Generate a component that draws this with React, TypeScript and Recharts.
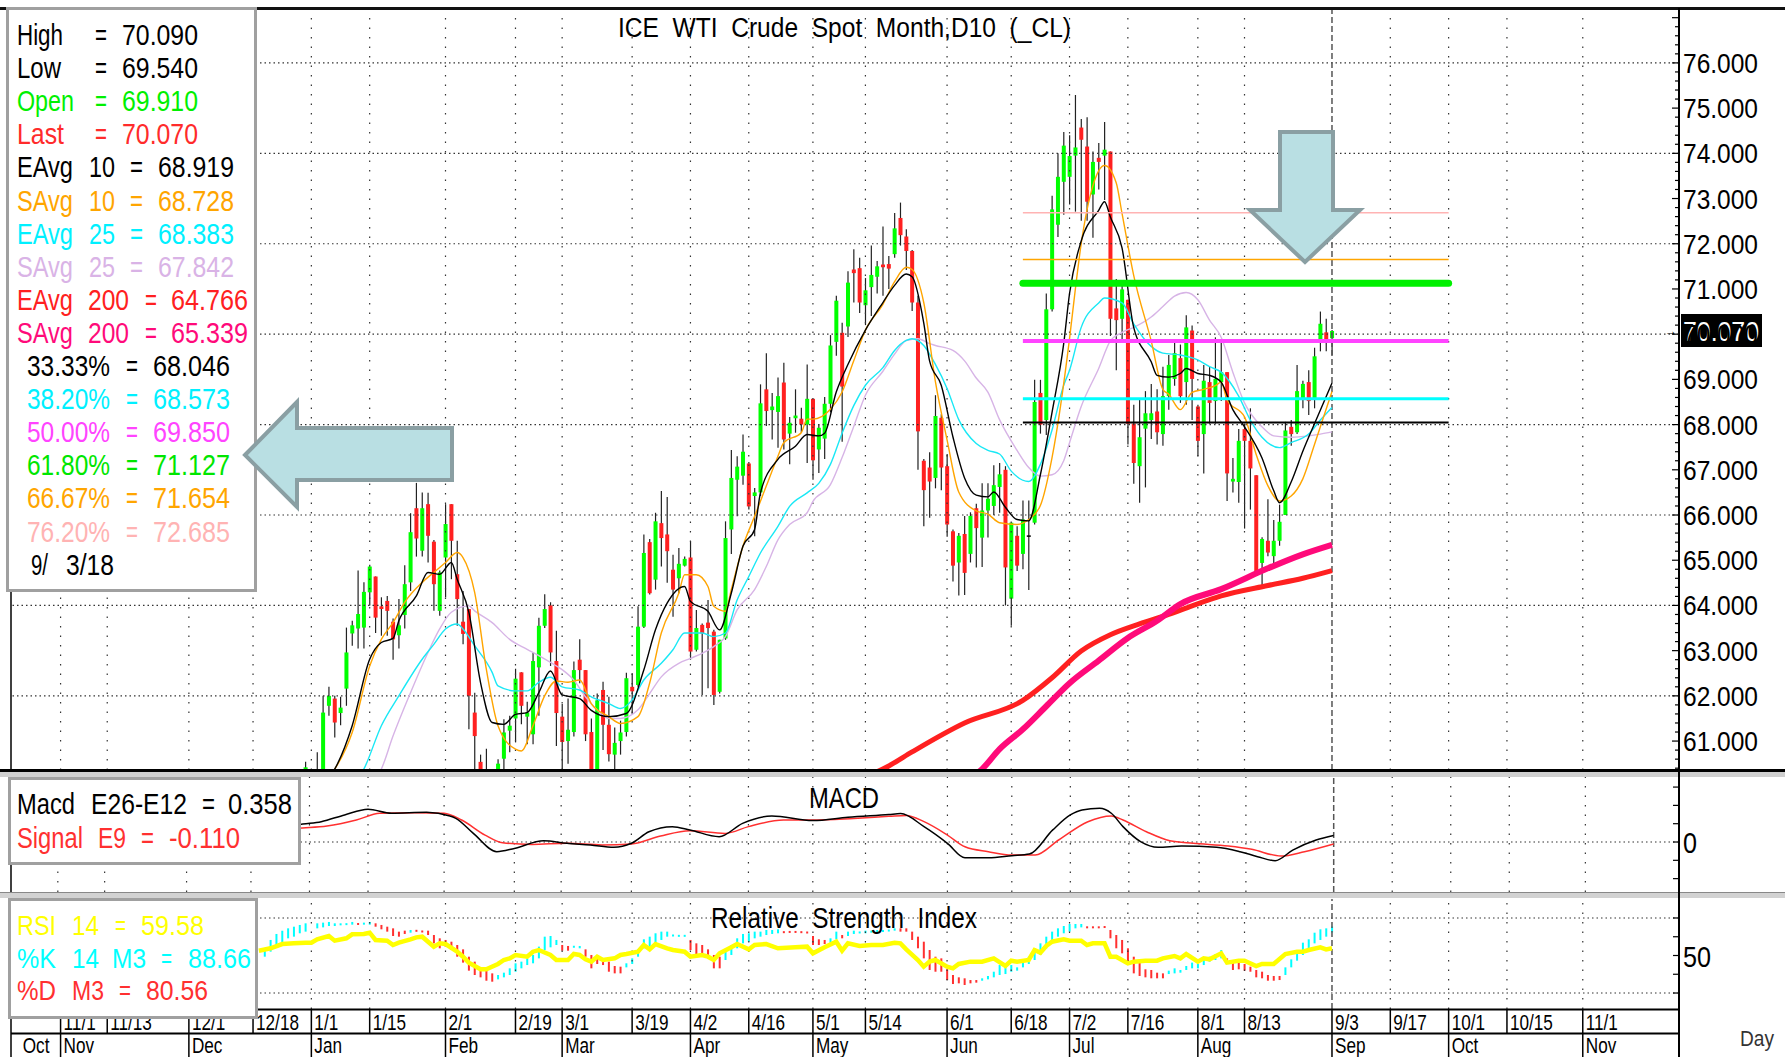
import React from "react";
import { ComposedChart, Bar, Line, XAxis, YAxis, ReferenceLine } from "recharts";

const FONT = "'Liberation Sans', Arial, sans-serif";
const W = 1785;
const SLOTS = 286; // weekday slots from 10/20/17 to late Nov 18

// [slot, open, high, low, close]
const CANDLES: number[][] = [
  [50, 60.2, 60.54, 59.9, 60.42], [52, 60.2, 60.75, 59.9, 60.37], [53, 60.3, 62.0, 60.2, 61.63],
  [54, 61.78, 62.2, 61.56, 62.0], [55, 61.94, 62.0, 61.08, 61.41], [56, 61.62, 61.98, 61.35, 61.74],
  [57, 62.16, 63.51, 61.78, 62.96], [58, 63.38, 63.66, 63.11, 63.56], [59, 63.49, 64.77, 63.05, 63.81],
  [60, 63.51, 64.51, 63.05, 64.3], [61, 64.29, 64.9, 64.0, 64.86], [62, 64.64, 64.64, 63.39, 63.73],
  [63, 63.98, 64.18, 63.33, 63.92], [64, 64.1, 64.21, 63.33, 63.88], [65, 63.64, 63.71, 62.8, 63.25],
  [66, 63.34, 64.14, 63.05, 63.56], [67, 63.79, 64.89, 63.49, 64.47], [68, 64.51, 66.04, 64.32, 65.62],
  [69, 66.15, 66.71, 65.08, 65.48], [70, 65.21, 66.5, 65.08, 66.15], [71, 66.24, 66.49, 64.95, 65.54],
  [72, 65.41, 65.45, 63.88, 64.47], [73, 63.88, 64.77, 63.77, 64.73], [74, 65.06, 66.24, 64.18, 65.8],
  [75, 66.24, 66.24, 64.58, 65.43], [76, 64.69, 65.43, 63.55, 64.14], [77, 63.64, 64.32, 63.14, 63.37],
  [78, 63.92, 63.92, 61.26, 62.0], [79, 61.63, 62.07, 60.38, 61.11], [80, 60.54, 60.7, 59.0, 59.2],
  [81, 59.5, 60.83, 58.9, 59.3], [82, 59.3, 59.8, 58.6, 59.2], [83, 59.2, 60.6, 59.0, 60.5],
  [84, 60.61, 61.48, 60.38, 61.19], [85, 61.23, 61.56, 60.75, 61.34], [86, 61.5, 62.6, 60.97, 62.38],
  [87, 62.52, 62.52, 61.37, 61.78], [88, 61.54, 61.87, 60.93, 61.63], [89, 61.15, 62.96, 60.93, 62.77],
  [90, 62.63, 63.73, 61.56, 63.55], [91, 63.55, 64.25, 63.5, 63.92], [92, 64.0, 64.07, 62.66, 62.96],
  [93, 62.77, 63.44, 60.89, 61.62], [94, 61.54, 61.82, 60.38, 60.98], [95, 61.0, 61.94, 60.5, 61.25],
  [96, 61.2, 62.76, 61.1, 62.57], [97, 62.8, 63.25, 62.28, 62.57], [98, 62.57, 62.57, 61.0, 61.15],
  [99, 61.2, 61.5, 59.95, 60.12], [100, 60.3, 62.05, 60.0, 61.9], [101, 62.13, 62.31, 60.8, 61.36],
  [102, 61.36, 61.98, 60.55, 60.71], [103, 60.7, 61.3, 60.3, 60.96], [104, 61.0, 61.45, 60.7, 61.19],
  [105, 61.2, 62.51, 61.1, 62.39], [106, 62.2, 62.5, 61.6, 62.1], [107, 62.24, 63.98, 62.2, 63.53],
  [108, 63.53, 65.57, 63.5, 65.16], [109, 65.4, 65.47, 64.24, 64.27], [110, 64.57, 66.05, 64.35, 65.86],
  [111, 65.82, 66.53, 64.86, 65.49], [112, 65.57, 66.4, 64.5, 65.2], [113, 64.79, 65.12, 63.75, 64.35],
  [114, 64.6, 65.27, 64.27, 64.92], [115, 64.88, 65.08, 64.86, 65.03], [116, 65.06, 65.42, 62.8, 62.98],
  [117, 63.02, 63.9, 62.98, 63.5], [118, 63.57, 63.6, 62.02, 63.38], [119, 63.62, 64.12, 62.17, 63.5],
  [120, 63.42, 63.46, 61.8, 62.02], [121, 62.09, 63.24, 62.05, 63.24], [122, 63.27, 65.86, 63.24, 65.49],
  [123, 65.68, 67.44, 65.14, 66.82], [124, 66.78, 67.3, 65.97, 67.07], [125, 66.87, 67.78, 66.67, 67.4],
  [126, 67.14, 67.17, 66.12, 66.19], [127, 66.42, 66.6, 65.53, 66.5], [128, 66.5, 68.89, 66.42, 68.47],
  [129, 68.78, 69.58, 67.97, 68.3], [130, 68.32, 68.7, 67.67, 68.4], [131, 68.28, 69.04, 67.49, 68.63],
  [132, 68.93, 69.37, 67.45, 67.67], [133, 67.8, 68.17, 67.12, 68.04], [134, 68.14, 68.78, 67.82, 68.2],
  [135, 68.13, 68.37, 67.82, 68.0], [136, 68.0, 69.33, 67.15, 68.57], [137, 68.57, 68.57, 66.78, 67.21],
  [138, 67.45, 68.0, 66.93, 67.93], [139, 67.69, 68.61, 67.24, 68.46], [140, 68.46, 69.98, 68.27, 69.75],
  [141, 69.83, 70.85, 69.52, 70.74], [142, 70.03, 70.25, 67.62, 68.84], [143, 70.17, 71.39, 69.94, 71.14],
  [144, 71.43, 71.88, 70.7, 71.35], [145, 71.46, 71.69, 70.47, 70.7], [146, 70.64, 71.24, 70.2, 70.97],
  [147, 71.04, 71.96, 70.4, 71.31], [148, 71.27, 71.62, 70.9, 71.5], [149, 71.54, 72.38, 70.85, 71.48],
  [150, 71.55, 71.73, 71.0, 71.45], [151, 71.77, 72.68, 71.69, 72.34], [152, 72.57, 72.91, 71.96, 72.19],
  [153, 72.16, 72.32, 71.42, 71.84], [154, 71.84, 71.86, 70.51, 70.7], [155, 70.7, 70.85, 67.0, 67.85],
  [156, 67.2, 67.24, 65.75, 66.55], [157, 67.05, 67.39, 65.94, 66.74], [158, 66.82, 68.65, 66.59, 68.19],
  [159, 68.15, 68.23, 66.55, 67.05], [160, 67.08, 67.35, 65.52, 65.79], [161, 65.64, 65.68, 64.53, 64.88],
  [162, 64.95, 65.6, 64.22, 65.54], [163, 65.58, 65.98, 64.23, 64.72], [164, 65.14, 66.06, 64.95, 65.98],
  [165, 66.15, 66.25, 64.84, 65.71], [166, 65.5, 66.7, 64.85, 66.1], [167, 66.1, 66.7, 65.5, 66.36],
  [168, 66.2, 67.1, 66.0, 66.66], [169, 66.62, 67.15, 66.05, 66.9], [170, 67.0, 67.08, 64.0, 64.84],
  [171, 64.15, 65.83, 63.55, 65.83], [172, 65.54, 65.75, 64.76, 64.88], [173, 65.14, 66.32, 64.8, 65.9],
  [174, 65.55, 66.32, 64.34, 65.52], [175, 65.83, 68.99, 65.79, 68.5], [176, 68.7, 68.99, 67.8, 68.0],
  [177, 68.1, 70.9, 67.77, 70.55], [178, 70.55, 73.06, 70.5, 72.76], [179, 72.42, 74.0, 72.15, 73.48],
  [180, 73.37, 74.47, 72.64, 74.17], [181, 73.48, 74.4, 72.87, 73.94], [182, 73.95, 75.29, 72.71, 74.13],
  [183, 74.57, 74.76, 72.51, 74.3], [184, 74.15, 74.8, 72.51, 72.93], [185, 73.09, 74.04, 72.13, 73.81],
  [186, 73.9, 74.23, 73.2, 73.81], [187, 73.95, 74.69, 72.97, 74.08], [188, 74.04, 74.04, 69.96, 70.34],
  [189, 70.57, 71.22, 69.2, 70.31], [190, 70.34, 71.07, 69.85, 70.99], [191, 70.76, 70.76, 67.56, 68.02],
  [192, 68.02, 68.44, 66.69, 67.15], [193, 67.08, 68.55, 66.27, 67.72], [194, 67.91, 68.74, 66.61, 68.25],
  [195, 68.1, 68.9, 67.68, 68.25], [196, 68.29, 68.78, 67.56, 67.83], [197, 67.79, 69.28, 67.53, 68.63],
  [198, 68.63, 69.54, 68.33, 69.32], [199, 69.01, 69.89, 68.86, 69.58], [200, 69.47, 69.77, 68.48, 68.63],
  [201, 68.94, 70.42, 68.44, 70.15], [202, 70.08, 70.19, 68.1, 69.01], [203, 68.4, 68.44, 67.3, 67.64],
  [204, 67.79, 69.32, 66.92, 68.97], [205, 68.94, 69.28, 68.02, 68.48], [206, 68.52, 69.93, 68.02, 69.01],
  [207, 68.94, 69.81, 68.52, 69.16], [208, 69.16, 69.16, 66.31, 66.92], [209, 66.74, 67.26, 66.5, 66.8],
  [210, 66.73, 67.9, 66.27, 67.64], [211, 67.9, 68.02, 65.7, 67.64], [212, 67.64, 68.36, 66.12, 67.03],
  [213, 66.88, 66.88, 64.67, 64.75], [214, 64.94, 65.51, 64.4, 65.47], [215, 65.43, 66.35, 65.09, 65.17],
  [216, 65.09, 65.89, 64.86, 65.43], [217, 65.43, 66.23, 65.32, 65.85], [218, 66.0, 68.06, 66.0, 67.87],
  [219, 67.95, 68.1, 67.53, 67.79], [220, 67.83, 69.32, 67.79, 68.74], [221, 68.55, 68.97, 68.36, 68.9],
  [222, 68.94, 69.2, 68.21, 68.52], [223, 68.55, 69.7, 68.36, 69.51], [224, 69.85, 70.5, 69.62, 70.23],
  [225, 70.04, 70.34, 69.62, 69.89], [226, 69.91, 70.09, 69.54, 70.07],
];

// moving averages: [slot, value]
const EMA10 = [[52,60.0],[55,60.38],[58,61.34],[61,62.81],[63,63.18],[65,63.27],[66,63.66],[69,64.21],[71,64.73],[73,64.69],[75,64.95],[76,64.58],[78,63.85],[80,62.3],[82,61.41],[84,61.37],[86,61.59],[88,61.63],[90,62.07],[92,62.55],[94,62.02],[97,61.94],[99,61.68],[102,61.54],[105,61.61],[108,62.57],[110,63.46],[112,64.05],[115,64.42],[116,64.09],[119,63.87],[121,63.46],[123,64.27],[125,65.31],[127,65.68],[128,66.49],[131,67.23],[134,67.52],[136,67.78],[138,67.75],[139,67.81],[141,68.72],[143,69.33],[146,70.09],[149,70.7],[151,71.08],[153,71.33],[154,71.27],[156,70.25],[157,69.41],[159,68.87],[161,67.73],[163,66.82],[165,66.44],[167,66.4],[168,66.51],[170,66.17],[172,65.9],[174,65.87],[176,66.89],[178,68.27],[180,69.79],[181,70.9],[183,72.06],[186,72.74],[187,72.93],[188,72.59],[190,71.91],[192,70.15],[195,69.39],[196,69.09],[198,69.05],[200,69.13],[201,69.24],[203,69.13],[205,69.09],[207,68.94],[209,68.33],[211,67.95],[214,67.26],[216,66.54],[217,66.27],[219,66.73],[221,67.41],[223,68.02],[226,68.92]];
const SMA10 = [[52,60.0],[55,60.38],[58,61.19],[61,62.66],[63,63.25],[65,63.62],[67,64.07],[70,64.51],[72,64.73],[74,64.95],[76,65.17],[77,65.06],[79,64.29],[81,62.59],[83,61.34],[86,60.82],[87,60.78],[89,61.34],[91,62.0],[93,62.33],[95,62.3],[97,62.35],[99,61.83],[102,61.54],[104,61.39],[107,61.54],[109,62.28],[111,63.39],[114,64.27],[115,64.68],[117,64.68],[119,64.42],[120,63.98],[122,63.87],[123,64.35],[125,65.31],[127,65.97],[129,66.64],[131,67.3],[132,67.6],[135,67.82],[136,68.12],[137,68.12],[140,68.34],[142,68.72],[144,69.41],[146,70.09],[149,70.66],[151,71.16],[153,71.48],[154,71.43],[156,70.7],[158,68.95],[160,67.66],[162,66.51],[165,66.09],[167,66.02],[169,65.83],[172,65.79],[174,65.9],[176,66.21],[178,67.27],[181,69.9],[182,71.0],[183,72.0],[185,73.28],[187,73.73],[189,73.35],[190,72.67],[192,71.3],[195,69.85],[197,68.78],[198,68.67],[200,68.33],[202,68.71],[204,68.78],[206,68.86],[207,68.94],[208,68.55],[211,68.17],[213,67.34],[215,66.65],[217,66.31],[219,66.42],[221,66.8],[223,67.56],[226,68.73]];
const EMA25 = [[58,60.0],[60,60.38],[63,61.34],[66,62.0],[70,62.81],[72,63.14],[74,63.48],[76,63.59],[77,63.48],[79,63.11],[82,62.52],[83,62.22],[86,62.11],[88,62.11],[90,62.3],[92,62.41],[94,62.2],[97,62.13],[99,61.98],[102,61.83],[104,61.72],[106,61.91],[108,62.35],[111,62.72],[113,63.02],[115,63.39],[118,63.39],[120,63.31],[122,63.39],[124,64.12],[126,64.64],[128,65.16],[131,65.75],[133,66.19],[136,66.49],[138,66.7],[140,67.12],[142,67.81],[144,68.42],[146,68.87],[149,69.26],[151,69.64],[153,69.86],[154,69.9],[156,69.75],[158,69.33],[160,68.8],[162,68.11],[165,67.58],[167,67.43],[169,67.35],[171,66.97],[174,66.74],[176,67.12],[178,67.88],[180,68.87],[181,69.2],[183,70.15],[186,70.69],[187,70.8],[190,70.69],[192,70.23],[195,69.73],[197,69.58],[200,69.54],[203,69.43],[205,69.28],[207,69.16],[210,68.63],[212,68.1],[214,67.72],[217,67.49],[219,67.6],[222,67.79],[224,68.1],[226,68.38]];
const SMA25 = [[61,60.0],[63,60.38],[65,61.11],[68,62.07],[71,62.96],[73,63.48],[75,63.85],[78,63.99],[79,63.88],[82,63.62],[85,63.25],[88,63.03],[90,62.89],[92,62.74],[94,62.58],[96,62.35],[98,61.98],[100,61.69],[102,61.5],[104,61.5],[107,61.69],[109,62.05],[111,62.42],[114,62.72],[116,62.83],[118,62.94],[120,63.09],[122,63.31],[124,63.9],[127,64.35],[129,64.86],[131,65.45],[133,65.79],[136,66.05],[137,66.3],[140,66.67],[142,67.27],[144,67.96],[146,68.65],[149,69.18],[151,69.56],[153,69.86],[155,69.9],[157,69.79],[158,69.75],[161,69.64],[163,69.41],[165,69.03],[167,68.72],[169,68.11],[172,67.43],[174,67.05],[176,66.86],[178,66.89],[180,67.2],[181,67.6],[183,68.4],[186,69.24],[188,69.85],[190,70.04],[192,70.15],[195,70.38],[197,70.61],[199,70.84],[201,70.92],[203,70.76],[205,70.31],[207,69.93],[209,69.16],[211,68.48],[214,67.95],[216,67.75],[219,67.72],[222,67.75],[224,67.79],[226,67.84]];
const EMA200 = [[145,60.15],[150,60.45],[154,60.76],[163,61.4],[173,61.9],[178,62.4],[183,62.99],[188,63.35],[193,63.59],[198,63.8],[202,63.99],[207,64.21],[215,64.44],[221,64.6],[226,64.77]];
const SMA200 = [[163,60.1],[166,60.38],[169,60.82],[173,61.26],[177,61.77],[181,62.28],[186,62.78],[191,63.28],[196,63.66],[200,64.03],[207,64.36],[215,64.82],[221,65.13],[226,65.34]];

// retracement levels, drawn from 6/20 to 10/1
const FIB_LEVELS = [68.046, 68.573, 69.85, 71.127, 71.654, 72.685];
const FIB_FROM = 173;
const FIB_TO = 246;
const LAST = 70.07;

const MACD = [[48,0.85],[49,0.93],[53,1.11],[57,1.48],[61,1.79],[65,1.57],[71,1.62],[75,1.42],[76,1.29],[79,0.47],[83,-0.53],[86,-0.35],[91,0.07],[95,-0.07],[99,-0.16],[103,-0.29],[106,-0.07],[109,0.56],[113,0.84],[116,0.66],[121,0.29],[125,1.02],[130,1.42],[137,1.17],[143,1.35],[150,1.5],[152,1.55],[156,0.84],[160,-0.07],[163,-0.86],[167,-0.86],[171,-0.75],[174,-0.66],[178,0.66],[181,1.48],[183,1.75],[186,1.84],[188,1.57],[190,0.84],[193,0.02],[196,-0.29],[200,-0.22],[206,-0.29],[210,-0.53],[213,-0.8],[216,-1.02],[219,-0.44],[223,0.11],[226,0.358]];
const SIGNAL = [[48,0.72],[49,0.75],[54,0.87],[59,1.2],[63,1.57],[69,1.6],[74,1.57],[77,1.2],[81,0.38],[84,-0.04],[89,-0.13],[95,-0.07],[101,-0.16],[106,-0.11],[111,0.33],[116,0.62],[122,0.47],[126,0.84],[132,1.2],[137,1.2],[144,1.29],[150,1.4],[153,1.45],[156,1.11],[160,0.38],[163,-0.26],[167,-0.53],[171,-0.71],[175,-0.71],[179,0.11],[184,1.11],[188,1.42],[190,1.2],[194,0.56],[198,0.07],[202,-0.07],[208,-0.22],[212,-0.4],[217,-0.77],[221,-0.53],[226,-0.11]];

const RSI = [[42,56.4],[44,59.6],[46,65.3],[48,66.2],[50,67.1],[51,67.1],[52,71.6],[54,76.0],[55,69.8],[57,72.9],[58,78.2],[60,78.7],[61,80.4],[62,70.7],[64,69.8],[65,64.0],[66,67.1],[68,71.6],[69,74.2],[70,75.1],[72,61.8],[73,66.2],[74,65.3],[76,55.1],[77,48.4],[78,40.5],[80,31.6],[81,31.6],[83,38.7],[84,44.0],[85,46.2],[86,50.7],[88,48.4],[89,55.1],[90,57.3],[92,50.7],[93,44.0],[95,44.0],[96,52.0],[97,50.7],[98,45.0],[99,41.8],[100,48.4],[101,44.0],[103,46.2],[104,50.7],[105,52.0],[107,55.1],[108,64.0],[109,58.2],[110,65.3],[112,59.6],[113,57.3],[115,55.1],[116,48.4],[118,50.7],[119,48.4],[120,44.0],[121,52.9],[123,60.9],[124,65.3],[126,58.2],[127,64.0],[129,65.3],[131,59.6],[134,60.9],[136,61.8],[137,52.9],[139,60.9],[141,68.4],[142,56.4],[143,66.2],[145,62.7],[147,64.0],[149,64.0],[151,67.1],[152,66.2],[153,58.2],[155,44.0],[156,35.1],[157,41.8],[158,44.0],[160,35.1],[161,32.9],[162,38.7],[164,41.8],[166,41.8],[168,46.2],[170,36.0],[171,43.1],[172,41.8],[174,44.0],[175,57.3],[176,53.8],[177,62.7],[178,68.4],[180,71.6],[181,69.8],[183,69.8],[184,64.0],[185,66.2],[187,66.2],[188,48.4],[189,48.4],[191,39.6],[192,41.8],[194,43.1],[196,43.1],[197,46.2],[199,49.3],[200,46.2],[201,52.0],[203,41.8],[204,46.2],[205,44.9],[207,52.9],[208,40.5],[210,43.1],[211,43.1],[213,36.0],[214,38.7],[216,38.7],[218,52.0],[220,55.1],[221,55.1],[222,57.3],[224,60.9],[225,58.2],[226,59.58]];
// stochastic: [slot, %K, %D]
const STOCH = [[43,58.2,48.4],[44,70.7,55.1],[45,78.7,61.8],[46,83.0,67.0],[47,86.2,72.9],[48,88.4,75.1],[49,90.7,79.6],[50,92.9,81.8],[52,92.9,86.2],[53,93.8,87.5],[54,94.7,89.3],[55,92.9,89.3],[56,92.9,90.2],[57,92.9,90.7],[58,94.7,91.1],[59,91.1,92.9],[60,93.8,91.1],[61,94.7,91.1],[62,88.4,92.9],[63,84.9,90.7],[64,81.8,88.4],[65,76.0,86.2],[66,75.1,81.8],[67,78.7,83.1],[68,84.0,80.4],[69,82.7,83.1],[70,81.0,83.0],[71,77.3,83.1],[72,66.2,77.3],[73,59.6,72.9],[74,61.8,70.7],[75,57.3,68.4],[76,48.4,64.0],[77,40.5,58.2],[78,29.8,48.4],[79,24.0,41.8],[80,20.9,34.2],[81,16.4,30.7],[82,15.1,26.2],[83,24.0,18.2],[84,27.1,20.9],[85,32.9,24.0],[86,39.6,28.4],[87,41.8,32.9],[88,46.2,37.3],[89,50.7,39.6],[90,61.8,46.2],[91,75.1,57.3],[92,76.0,60.9],[93,70.7,64.0],[94,56.4,64.0],[95,56.4,62.7],[96,61.8,61.5],[97,62.7,59.6],[98,48.4,58.2],[99,32.9,50.7],[100,38.7,50.7],[101,37.3,46.2],[102,28.4,41.8],[103,26.2,36.0],[104,26.2,35.1],[105,39.6,34.2],[106,46.2,38.7],[107,58.2,48.4],[108,71.6,59.6],[109,75.1,61.8],[110,79.6,66.2],[111,81.8,70.7],[112,81.8,75.1],[113,77.3,76.0],[114,76.4,76.0],[115,76.4,76.0],[116,57.3,70.7],[117,52.0,66.2],[118,52.9,64.0],[119,50.7,58.2],[120,32.9,50.7],[121,32.9,48.4],[122,55.1,44.0],[123,64.0,50.7],[124,72.9,59.6],[125,78.7,66.2],[126,79.6,68.4],[127,81.8,72.9],[128,81.8,75.1],[129,84.0,77.3],[130,84.0,78.7],[131,84.9,79.6],[132,80.4,81.8],[133,81.0,81.8],[134,81.0,81.8],[135,80.4,81.8],[136,80.4,80.9],[137,64.0,76.0],[138,64.0,71.6],[139,65.3,70.7],[140,72.9,67.1],[141,81.8,71.6],[142,72.9,77.3],[143,81.8,76.0],[144,83.1,78.7],[145,81.8,79.6],[146,83.1,79.6],[147,83.1,80.4],[148,84.0,80.4],[149,84.0,81.3],[150,83.5,83.0],[151,86.2,83.1],[152,81.8,86.2],[153,81.8,86.2],[154,70.7,81.8],[155,59.6,75.1],[156,46.2,68.4],[157,30.7,57.3],[158,28.4,48.4],[159,28.4,46.2],[160,17.3,31.6],[161,12.0,24.0],[162,12.9,20.9],[163,10.7,19.6],[164,12.9,17.3],[165,13.8,17.3],[166,19.6,16.4],[167,22.7,18.2],[168,28.4,20.9],[169,37.3,24.0],[170,36.0,25.3],[171,37.3,28.4],[172,34.2,29.8],[173,41.8,34.2],[174,48.4,38.7],[175,59.6,44.0],[176,66.2,50.7],[177,75.1,59.6],[178,81.8,66.2],[179,86.2,75.1],[180,89.3,79.6],[181,92.0,81.8],[182,92.0,86.2],[183,92.0,87.5],[184,86.7,88.4],[185,86.7,88.4],[186,86.7,88.4],[187,87.5,88.4],[188,72.9,84.0],[189,59.6,77.3],[190,52.9,70.7],[191,37.3,59.6],[192,26.2,48.4],[193,22.7,40.5],[194,20.9,31.6],[195,19.6,30.7],[196,19.6,27.1],[197,19.6,26.2],[198,29.8,25.3],[199,32.9,26.2],[200,30.7,27.1],[201,36.0,30.7],[202,40.5,32.9],[203,38.7,32.9],[204,44.0,37.3],[205,48.4,41.8],[206,52.0,44.0],[207,57.3,46.2],[208,41.8,46.2],[209,30.7,41.8],[210,31.6,41.8],[211,29.8,38.7],[212,28.4,35.1],[213,20.9,30.7],[214,19.6,28.4],[215,16.4,24.0],[216,16.4,22.7],[217,17.3,22.7],[218,34.2,24.0],[219,44.9,34.2],[220,55.1,43.1],[221,67.1,50.7],[222,71.6,59.6],[223,80.4,66.2],[224,84.9,70.7],[225,86.2,75.1],[226,88.66,80.56]];

const PRICE_TICKS = [61, 62, 63, 64, 65, 66, 67, 68, 69, 70, 71, 72, 73, 74, 75, 76];
const MACD_TICKS = [-2, -1, 0, 1, 2, 3];
const RSI_TICKS = [0, 25, 50, 75, 100];
const DAY_TICKS = [8, 16, 30, 41, 51, 61, 74, 86, 94, 106, 116, 126, 137, 146, 160, 171, 181, 191, 203, 211, 226, 236, 246, 256, 269];
const DAY_LABELS = ["11/1", "11/13", "12/1", "12/18", "1/1", "1/15", "2/1", "2/19", "3/1", "3/19", "4/2", "4/16", "5/1", "5/14", "6/1", "6/18", "7/2", "7/16", "8/1", "8/13", "9/3", "9/17", "10/1", "10/15", "11/1"];
const MONTH_TICKS = [1, 8, 30, 51, 74, 94, 116, 137, 160, 181, 203, 226, 246, 269];
const MONTH_LABELS = ["Oct", "Nov", "Dec", "Jan", "Feb", "Mar", "Apr", "May", "Jun", "Jul", "Aug", "Sep", "Oct", "Nov"];
const TODAY = 226;

// ---- layout ----
const MAIN_TOP = 10;
const MAIN_H = 760;
const MAIN_DOMAIN = [60.36, 77.17];
const MACD_TOP = 777;
const MACD_H = 115;
const RSI_TOP = 899;
const RSI_H = 110;
const PPU = MAIN_H / (MAIN_DOMAIN[1] - MAIN_DOMAIN[0]);

const minorTicks: number[] = [];
for (let v = 604; v <= 770; v += 2) minorTicks.push(v / 10);

const FIB_STYLE = [
  { color: "#000000", width: 2 },
  { color: "#00ffff", width: 3 },
  { color: "#ff44ff", width: 4 },
  { color: "#00f000", width: 7 },
  { color: "#ffa500", width: 1.5 },
  { color: "#ffb3b3", width: 1.5 },
];

type Row = { [k: string]: any };
const rows: Row[] = Array.from({ length: SLOTS }, (_, i) => ({ i }));
for (const [s, o, h, l, c] of CANDLES) {
  rows[s].range = [l, h];
  rows[s].o = o;
  rows[s].c = c;
}
for (const [s, k, d] of STOCH) {
  rows[s].kd = [Math.min(k, d), Math.max(k, d)];
  rows[s].up = k >= d;
}
const put = (key: string, pts: number[][]) => {
  for (const [s, v] of pts) rows[s][key] = v;
};
put("ema10", EMA10);
put("sma10", SMA10);
put("ema25", EMA25);
put("sma25", SMA25);
put("ema200", EMA200);
put("sma200", SMA200);
put("macd", MACD);
put("signal", SIGNAL);
put("rsi", RSI);
FIB_LEVELS.forEach((v, n) => {
  rows[FIB_FROM]["fib" + n] = v;
  rows[FIB_TO]["fib" + n] = v;
});

function Candle(props: any) {
  const { x, width, payload } = props;
  let { y, height } = props;
  if (!payload || payload.o == null) return null;
  if (height < 0) {
    y += height;
    height = -height;
  }
  const [lo, hi] = payload.range;
  const k = lo >= MAIN_DOMAIN[0] && hi > lo ? height / (hi - lo) : PPU;
  const yo = y + (hi - payload.o) * k;
  const yc = y + (hi - payload.c) * k;
  const cx = x + width / 2;
  const diff = payload.c - payload.o;
  const fill = Math.abs(diff) < 0.04 ? "#000" : diff > 0 ? "#00ff00" : "#ff2020";
  return (
    <g>
      <line x1={cx} x2={cx} y1={y} y2={y + (hi - lo) * k} stroke="#222" strokeWidth={1.2} />
      <rect x={cx - 2} y={Math.min(yo, yc)} width={4} height={Math.max(Math.abs(yc - yo), 1.5)} fill={fill} />
    </g>
  );
}

function StochBar(props: any) {
  const { x, width, payload } = props;
  let { y, height } = props;
  if (!payload || !payload.kd) return null;
  if (height < 0) {
    y += height;
    height = -height;
  }
  const h = Math.max(height, 2);
  return <rect x={x + width / 2 - 1} y={y - (h - height) / 2} width={2} height={h} fill={payload.up ? "#00ffff" : "#ff3030"} />;
}

function PriceTick(props: any) {
  const { x, y, payload } = props;
  const v = payload.value;
  const major = Math.abs(v - Math.round(v)) < 0.001;
  const label = major && PRICE_TICKS.includes(Math.round(v));
  return (
    <g>
      <line x1={x - (major ? 7 : 4)} x2={x} y1={y} y2={y} stroke="#000" strokeWidth={1.2} />
      {label && (
        <text x={x + 4} y={y + 10} fontSize={28} fontFamily={FONT} fill="#000" textLength={75} lengthAdjust="spacingAndGlyphs">
          {Math.round(v).toFixed(3)}
        </text>
      )}
    </g>
  );
}

const makeSideTick = (labelled: number, w: number) => (props: any) => {
  const { x, y, payload } = props;
  return (
    <g>
      <line x1={x - 6} x2={x} y1={y} y2={y} stroke="#000" strokeWidth={1.2} />
      {payload.value === labelled && (
        <text x={x + 4} y={y + 11} fontSize={30} fontFamily={FONT} fill="#000" textLength={w} lengthAdjust="spacingAndGlyphs">
          {String(labelled)}
        </text>
      )}
    </g>
  );
};
const MacdTick = makeSideTick(0, 14);
const RsiTick = makeSideTick(50, 28);

function DayTick(props: any) {
  const { x, y, payload } = props;
  const n = DAY_TICKS.indexOf(payload.value);
  return (
    <g>
      <line x1={x} x2={x} y1={y} y2={y + 24} stroke="#000" strokeWidth={1.5} />
      <text transform={`translate(${x + 3},${y + 21}) scale(0.78,1)`} fontSize={22} fontFamily={FONT} fill="#000">
        {DAY_LABELS[n]}
      </text>
    </g>
  );
}

function MonthTick(props: any) {
  const { x, y, payload } = props;
  const n = MONTH_TICKS.indexOf(payload.value);
  return (
    <g>
      {n > 0 && <line x1={x} x2={x} y1={y} y2={y + 24} stroke="#000" strokeWidth={1.5} />}
      <text transform={`translate(${x + 3},${y + 20}) scale(0.78,1)`} fontSize={22} fontFamily={FONT} fill="#000">
        {MONTH_LABELS[n]}
      </text>
    </g>
  );
}

function LastLabel(props: any) {
  const vb = props.viewBox || {};
  const right = (vb.x || 0) + (vb.width || 0);
  const y = vb.y || 0;
  return (
    <g>
      <text x={right - 14} y={y + 4} fontSize={12} fontFamily={FONT} fill="#000">→</text>
      <rect x={right + 2} y={y - 17} width={81} height={33} fill="#000" />
      <text x={right + 4} y={y + 10} fontSize={28} fontFamily={FONT} fill="#fff" textLength={76} lengthAdjust="spacingAndGlyphs">
        {LAST.toFixed(3)}
      </text>
    </g>
  );
}

const vGrid = (xAxisId?: string) =>
  DAY_TICKS.map((t) => (
    <ReferenceLine
      key={"v" + t}
      x={t}
      xAxisId={xAxisId}
      stroke={t === TODAY ? "#555" : "#333"}
      strokeWidth={t === TODAY ? 1.5 : 1.2}
      strokeDasharray={t === TODAY ? "6 3" : "1.5 8"}
    />
  ));

const hDotted = (vals: number[]) =>
  vals.map((v) => <ReferenceLine key={"h" + v} y={v} stroke="#333" strokeWidth={1.2} strokeDasharray="1.5 3" />);

const maLine = (key: string, color: string, width: number) => (
  <Line key={key} dataKey={key} stroke={color} strokeWidth={width} dot={false} connectNulls type="monotone" isAnimationActive={false} />
);

// legend rows: [x, text, width]
const MAIN_LEGEND: { color: string; parts: [number, string, number][] }[] = [
  { color: "#000", parts: [[17, "High", 46], [95, "=", 12], [122, "70.090", 76]] },
  { color: "#000", parts: [[17, "Low", 44], [95, "=", 12], [122, "69.540", 76]] },
  { color: "#00f000", parts: [[17, "Open", 57], [95, "=", 12], [122, "69.910", 76]] },
  { color: "#ff2b2b", parts: [[17, "Last", 47], [95, "=", 12], [122, "70.070", 76]] },
  { color: "#000", parts: [[17, "EAvg", 56], [89, "10", 26], [130, "=", 13], [158, "68.919", 76]] },
  { color: "#ffa500", parts: [[17, "SAvg", 56], [89, "10", 26], [130, "=", 13], [158, "68.728", 76]] },
  { color: "#00f0ff", parts: [[17, "EAvg", 56], [89, "25", 26], [130, "=", 13], [158, "68.383", 76]] },
  { color: "#d9b3e6", parts: [[17, "SAvg", 56], [89, "25", 26], [130, "=", 13], [158, "67.842", 76]] },
  { color: "#ff2020", parts: [[17, "EAvg", 56], [88, "200", 41], [145, "=", 12], [171, "64.766", 77]] },
  { color: "#ff0a7a", parts: [[17, "SAvg", 56], [88, "200", 41], [145, "=", 12], [171, "65.339", 77]] },
  { color: "#000", parts: [[27, "33.33%", 83], [126, "=", 12], [153, "68.046", 77]] },
  { color: "#00f0ff", parts: [[27, "38.20%", 83], [126, "=", 12], [153, "68.573", 77]] },
  { color: "#ff44ff", parts: [[27, "50.00%", 83], [126, "=", 12], [153, "69.850", 77]] },
  { color: "#00e600", parts: [[27, "61.80%", 83], [126, "=", 12], [153, "71.127", 77]] },
  { color: "#ffa500", parts: [[27, "66.67%", 83], [126, "=", 12], [153, "71.654", 77]] },
  { color: "#ffb3b3", parts: [[27, "76.20%", 83], [126, "=", 12], [153, "72.685", 77]] },
  { color: "#000", parts: [[31, "9/", 17], [66, "3/18", 48]] },
];
const MACD_LEGEND: { color: string; y: number; parts: [number, string, number][] }[] = [
  { color: "#000", y: 814, parts: [[17, "Macd", 58], [91, "E26-E12", 96], [202, "=", 13], [228, "0.358", 64]] },
  { color: "#ff3030", y: 848, parts: [[17, "Signal", 66], [98, "E9", 28], [141, "=", 13], [169, "-0.110", 71]] },
];
const RSI_LEGEND: { color: string; y: number; parts: [number, string, number][] }[] = [
  { color: "#ffff00", y: 935, parts: [[17, "RSI", 39], [72, "14", 27], [115, "=", 11], [141, "59.58", 63]] },
  { color: "#00ffff", y: 968, parts: [[17, "%K", 39], [72, "14", 27], [112, "M3", 34], [161, "=", 11], [188, "88.66", 63]] },
  { color: "#ff3030", y: 1000, parts: [[17, "%D", 39], [72, "M3", 32], [119, "=", 12], [146, "80.56", 62]] },
];

function Parts({ y, color, size, parts }: { y: number; color: string; size: number; parts: [number, string, number][] }) {
  return (
    <>
      {parts.map(([x, t, w], n) => (
        <text key={n} x={x} y={y} fill={color} fontSize={size} fontFamily={FONT} textLength={w} lengthAdjust="spacingAndGlyphs">
          {t}
        </text>
      ))}
    </>
  );
}

const margin = { top: 0, right: 0, bottom: 0, left: 11 };

export default function App() {
  return (
    <div style={{ position: "absolute", left: 0, top: 0, width: W, height: 1057, background: "#fff", overflow: "hidden", fontFamily: FONT }}>
      <div style={{ position: "absolute", left: 0, top: MAIN_TOP }}>
        <ComposedChart width={W} height={MAIN_H} data={rows} margin={margin}>
          <XAxis dataKey="i" hide />
          <YAxis
            orientation="right"
            width={106}
            domain={MAIN_DOMAIN}
            allowDataOverflow
            ticks={minorTicks}
            interval={0}
            tick={PriceTick}
            tickLine={false}
            tickSize={0}
            tickMargin={0}
            axisLine={{ stroke: "#000", strokeWidth: 2 }}
          />
          {hDotted([62, 64, 66, 68, 70, 72, 74, 76])}
          {vGrid()}
          <Bar dataKey="range" barSize={4} shape={Candle} isAnimationActive={false} />
          {maLine("sma25", "#d7b4e6", 1.4)}
          {maLine("ema25", "#19e8f5", 1.4)}
          {maLine("sma10", "#ffa500", 1.4)}
          {maLine("ema10", "#000000", 1.4)}
          {maLine("ema200", "#ff2020", 5)}
          {maLine("sma200", "#ff0a7a", 6)}
          {FIB_LEVELS.map((_, n) => (
            <Line
              key={"fib" + n}
              dataKey={"fib" + n}
              stroke={FIB_STYLE[n].color}
              strokeWidth={FIB_STYLE[n].width}
              strokeLinecap={n === 3 ? "round" : "butt"}
              dot={false}
              connectNulls
              type="linear"
              isAnimationActive={false}
            />
          ))}
          <ReferenceLine y={LAST} stroke="none" label={(p: any) => <LastLabel {...p} />} />
        </ComposedChart>
      </div>

      <div style={{ position: "absolute", left: 0, top: MACD_TOP }}>
        <ComposedChart width={W} height={MACD_H} data={rows} margin={margin}>
          <XAxis dataKey="i" hide />
          <YAxis
            orientation="right"
            width={106}
            domain={[-2.73, 3.55]}
            allowDataOverflow
            ticks={MACD_TICKS}
            interval={0}
            tick={MacdTick}
            tickLine={false}
            tickSize={0}
            tickMargin={0}
            axisLine={{ stroke: "#000", strokeWidth: 2 }}
          />
          {hDotted([0])}
          {vGrid()}
          <Line dataKey="signal" stroke="#ff3030" strokeWidth={1.5} dot={false} connectNulls type="monotone" isAnimationActive={false} />
          <Line dataKey="macd" stroke="#000" strokeWidth={1.5} dot={false} connectNulls type="monotone" isAnimationActive={false} />
        </ComposedChart>
      </div>

      <div style={{ position: "absolute", left: 0, top: RSI_TOP }}>
        <ComposedChart width={W} height={RSI_H + 48} data={rows} margin={margin}>
          <XAxis xAxisId="day" dataKey="i" height={24} ticks={DAY_TICKS} interval={0} tick={DayTick} tickLine={false} tickSize={0} tickMargin={0} axisLine={false} />
          <XAxis xAxisId="mon" dataKey="i" height={24} ticks={MONTH_TICKS} interval={0} tick={MonthTick} tickLine={false} tickSize={0} tickMargin={0} axisLine={false} />
          <YAxis
            orientation="right"
            width={106}
            domain={[-21.3, 125.3]}
            allowDataOverflow
            ticks={RSI_TICKS}
            interval={0}
            tick={RsiTick}
            tickLine={false}
            tickSize={0}
            tickMargin={0}
            axisLine={{ stroke: "#000", strokeWidth: 2 }}
          />
          {[0, 100].map((v) => (
            <ReferenceLine key={"r" + v} xAxisId="day" y={v} stroke="#333" strokeWidth={1.2} strokeDasharray="1.5 3" />
          ))}
          {vGrid("day")}
          <Bar xAxisId="day" dataKey="kd" barSize={2} shape={StochBar} isAnimationActive={false} />
          <Line xAxisId="day" dataKey="rsi" stroke="#ffff00" strokeWidth={4.5} dot={false} connectNulls type="linear" isAnimationActive={false} />
        </ComposedChart>
      </div>

      <svg width={W} height={1057} style={{ position: "absolute", left: 0, top: 0, pointerEvents: "none" }}>
        {/* frames */}
        <line x1={0} x2={W} y1={8.5} y2={8.5} stroke="#111" strokeWidth={3} />
        <line x1={11} x2={11} y1={8} y2={1057} stroke="#000" strokeWidth={1.5} />
        <line x1={0} x2={W} y1={770.5} y2={770.5} stroke="#000" strokeWidth={3} />
        <rect x={0} y={772} width={W} height={5} fill="#cfcfcf" />
        <rect x={0} y={892} width={W} height={6} fill="#d2d2d2" />
        <line x1={0} x2={W} y1={892.5} y2={892.5} stroke="#888" strokeWidth={1} />
        <line x1={1679} x2={1679} y1={8} y2={1057} stroke="#000" strokeWidth={2} />
        <line x1={11} x2={1679} y1={1009.5} y2={1009.5} stroke="#000" strokeWidth={2} />
        <line x1={11} x2={1679} y1={1033.5} y2={1033.5} stroke="#000" strokeWidth={2} />

        {/* titles */}
        <text x={618} y={37} fontSize={27} fontFamily={FONT} fill="#000" textLength={453} lengthAdjust="spacingAndGlyphs" style={{ whiteSpace: "pre" }}>
          {"ICE  WTI  Crude  Spot  Month,D10  (_CL)"}
        </text>
        <text x={809} y={808} fontSize={30} fontFamily={FONT} fill="#000" textLength={70} lengthAdjust="spacingAndGlyphs">
          MACD
        </text>
        <text x={711} y={928} fontSize={30} fontFamily={FONT} fill="#000" textLength={266} lengthAdjust="spacingAndGlyphs" style={{ whiteSpace: "pre" }}>
          {"Relative  Strength  Index"}
        </text>
        <text x={1740} y={1046} fontSize={22} fontFamily={FONT} fill="#333" textLength={34} lengthAdjust="spacingAndGlyphs">
          Day
        </text>

        {/* legend boxes */}
        <rect x={7.5} y={8.5} width={248} height={582} fill="#fff" stroke="#a0a0a0" strokeWidth={3} />
        {MAIN_LEGEND.map((r, n) => (
          <Parts key={n} y={45 + 33.1 * n} color={r.color} size={29} parts={r.parts} />
        ))}
        <rect x={9.5} y={778.5} width={290} height={85} fill="#fff" stroke="#a0a0a0" strokeWidth={3} />
        {MACD_LEGEND.map((r, n) => (
          <Parts key={n} y={r.y} color={r.color} size={29} parts={r.parts} />
        ))}
        <rect x={9.5} y={899.5} width={247} height={118} fill="#fff" stroke="#a0a0a0" strokeWidth={3} />
        {RSI_LEGEND.map((r, n) => (
          <Parts key={n} y={r.y} color={r.color} size={28} parts={r.parts} />
        ))}

        {/* arrows */}
        <polygon points="245,455 297,402 297,428 452,428 452,480 297,480 297,507" fill="#b9dfe3" stroke="#8a9fa3" strokeWidth={4} strokeLinejoin="miter" />
        <polygon points="1280,132 1333,132 1333,210 1360,210 1305,262 1250,210 1280,210" fill="#b9dfe3" stroke="#8a9fa3" strokeWidth={4} strokeLinejoin="miter" />
      </svg>
    </div>
  );
}
